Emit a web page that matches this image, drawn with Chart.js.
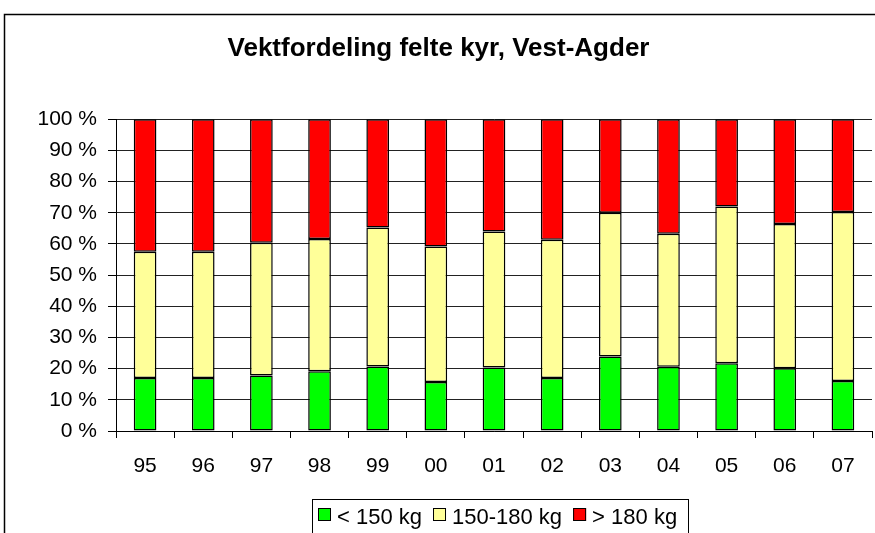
<!DOCTYPE html>
<html>
<head>
<meta charset="utf-8">
<script src="https://cdn.jsdelivr.net/npm/chart.js@4/dist/chart.umd.min.js"></script>
<style>
	html, body { margin: 0; padding: 0; background: #fff; }
	#wrap { width: 875px; height: 533px; }
</style>
</head>
<body>
<div id="wrap"><canvas id="mycanvas" width="875" height="533"></canvas></div>
<script>
var years = ['95', '96', '97', '98', '99', '00', '01', '02', '03', '04', '05', '06', '07'];
var under150 = [17.0, 17.0, 17.8, 19.2, 20.7, 15.7, 20.4, 17.0, 23.9, 20.6, 21.7, 20.1, 16.0];
var mid150to180 = [40.5, 40.5, 42.6, 42.4, 44.6, 43.5, 43.6, 44.3, 46.1, 42.7, 50.3, 46.3, 54.2];
var over180 = [42.5, 42.5, 39.6, 38.4, 34.7, 40.8, 36.0, 38.7, 30.0, 36.7, 28.0, 33.6, 29.8];
var yTicks = [0, 10, 20, 30, 40, 50, 60, 70, 80, 90, 100];

var fontFam = 'Arial, "Liberation Sans", sans-serif';

// frame round the whole chart + legend box with its own border
var frame = {
	id: 'frame',
	beforeDraw: function(chart) {
		var c = chart.ctx;
		c.save();
		c.fillStyle = '#fff';
		c.fillRect(0, 0, chart.width, chart.height);
		c.restore();
	},
	afterDraw: function(chart) {
		var c = chart.ctx;
		c.save();
		c.strokeStyle = '#000';
		c.lineWidth = 1.5;
		c.beginPath();
		c.moveTo(4.5, chart.height + 2);
		c.lineTo(4.5, 14.5);
		c.lineTo(chart.width + 2, 14.5);
		c.stroke();

		// legend
		c.lineWidth = 1;
		c.strokeRect(312.5, 499.5, 376, 40);
		c.font = '22px ' + fontFam;
		c.textBaseline = 'alphabetic';
		var x = 318;
		chart.data.datasets.forEach(function(ds) {
			c.fillStyle = ds.backgroundColor;
			c.fillRect(x, 508, 13, 13);
			c.strokeStyle = '#000';
			c.strokeRect(x + 0.5, 508.5, 12, 12);
			c.fillStyle = '#000';
			c.fillText(ds.label, x + 19, 524);
			x += 19 + c.measureText(ds.label).width + 11;
		});
		c.restore();
	}
};

var ctx = document.getElementById('mycanvas');

var chartdata = {
	labels: years,
	datasets: [
		{ label: '< 150 kg', data: under150, backgroundColor: '#00ff00' },
		{ label: '150-180 kg', data: mid150to180, backgroundColor: '#ffff99' },
		{ label: '> 180 kg', data: over180, backgroundColor: '#ff0000' }
	]
};

var weightChart = new Chart(ctx, {
	type: 'bar',
	data: chartdata,
	plugins: [frame],
	options: {
		responsive: false,
		animation: false,
		layout: { padding: { left: 5, right: 3, top: 0, bottom: 0 } },
		datasets: {
			bar: {
				barPercentage: 0.39,
				categoryPercentage: 1,
				borderColor: '#000',
				borderWidth: 1.5,
				borderSkipped: false
			}
		},
		plugins: {
			legend: { display: false },
			tooltip: { enabled: false },
			title: {
				display: true,
				text: 'Vektfordeling felte kyr, Vest-Agder',
				color: '#000',
				font: { family: fontFam, size: 26, weight: 'bold', lineHeight: 1.2 },
				padding: { top: 33, bottom: 55 }
			}
		},
		scales: {
			x: {
				stacked: true,
				afterFit: function(s) { s.height = 102; },
				grid: {
					display: true,
					offset: true,
					drawOnChartArea: true,
					color: function(c) { return c.index === years.length ? '#888' : 'rgba(0,0,0,0)'; },
					tickColor: '#000',
					tickLength: 7
				},
				border: { display: true, color: '#000', width: 1 },
				ticks: {
					color: '#000',
					padding: 16,
					font: { family: fontFam, size: 21 }
				}
			},
			y: {
				stacked: true,
				min: 0,
				max: 100,
				afterFit: function(s) { s.width = 111; },
				afterBuildTicks: function(s) {
					s.ticks = yTicks.map(function(v) { return { value: v }; });
				},
				grid: { color: '#222', tickColor: '#000', tickLength: 8 },
				border: { display: true, color: '#000', width: 1 },
				ticks: {
					color: '#000',
					padding: 11,
					font: { family: fontFam, size: 21 },
					callback: function(v) { return v + ' %'; }
				}
			}
		}
	}
});
</script>
</body>
</html>
